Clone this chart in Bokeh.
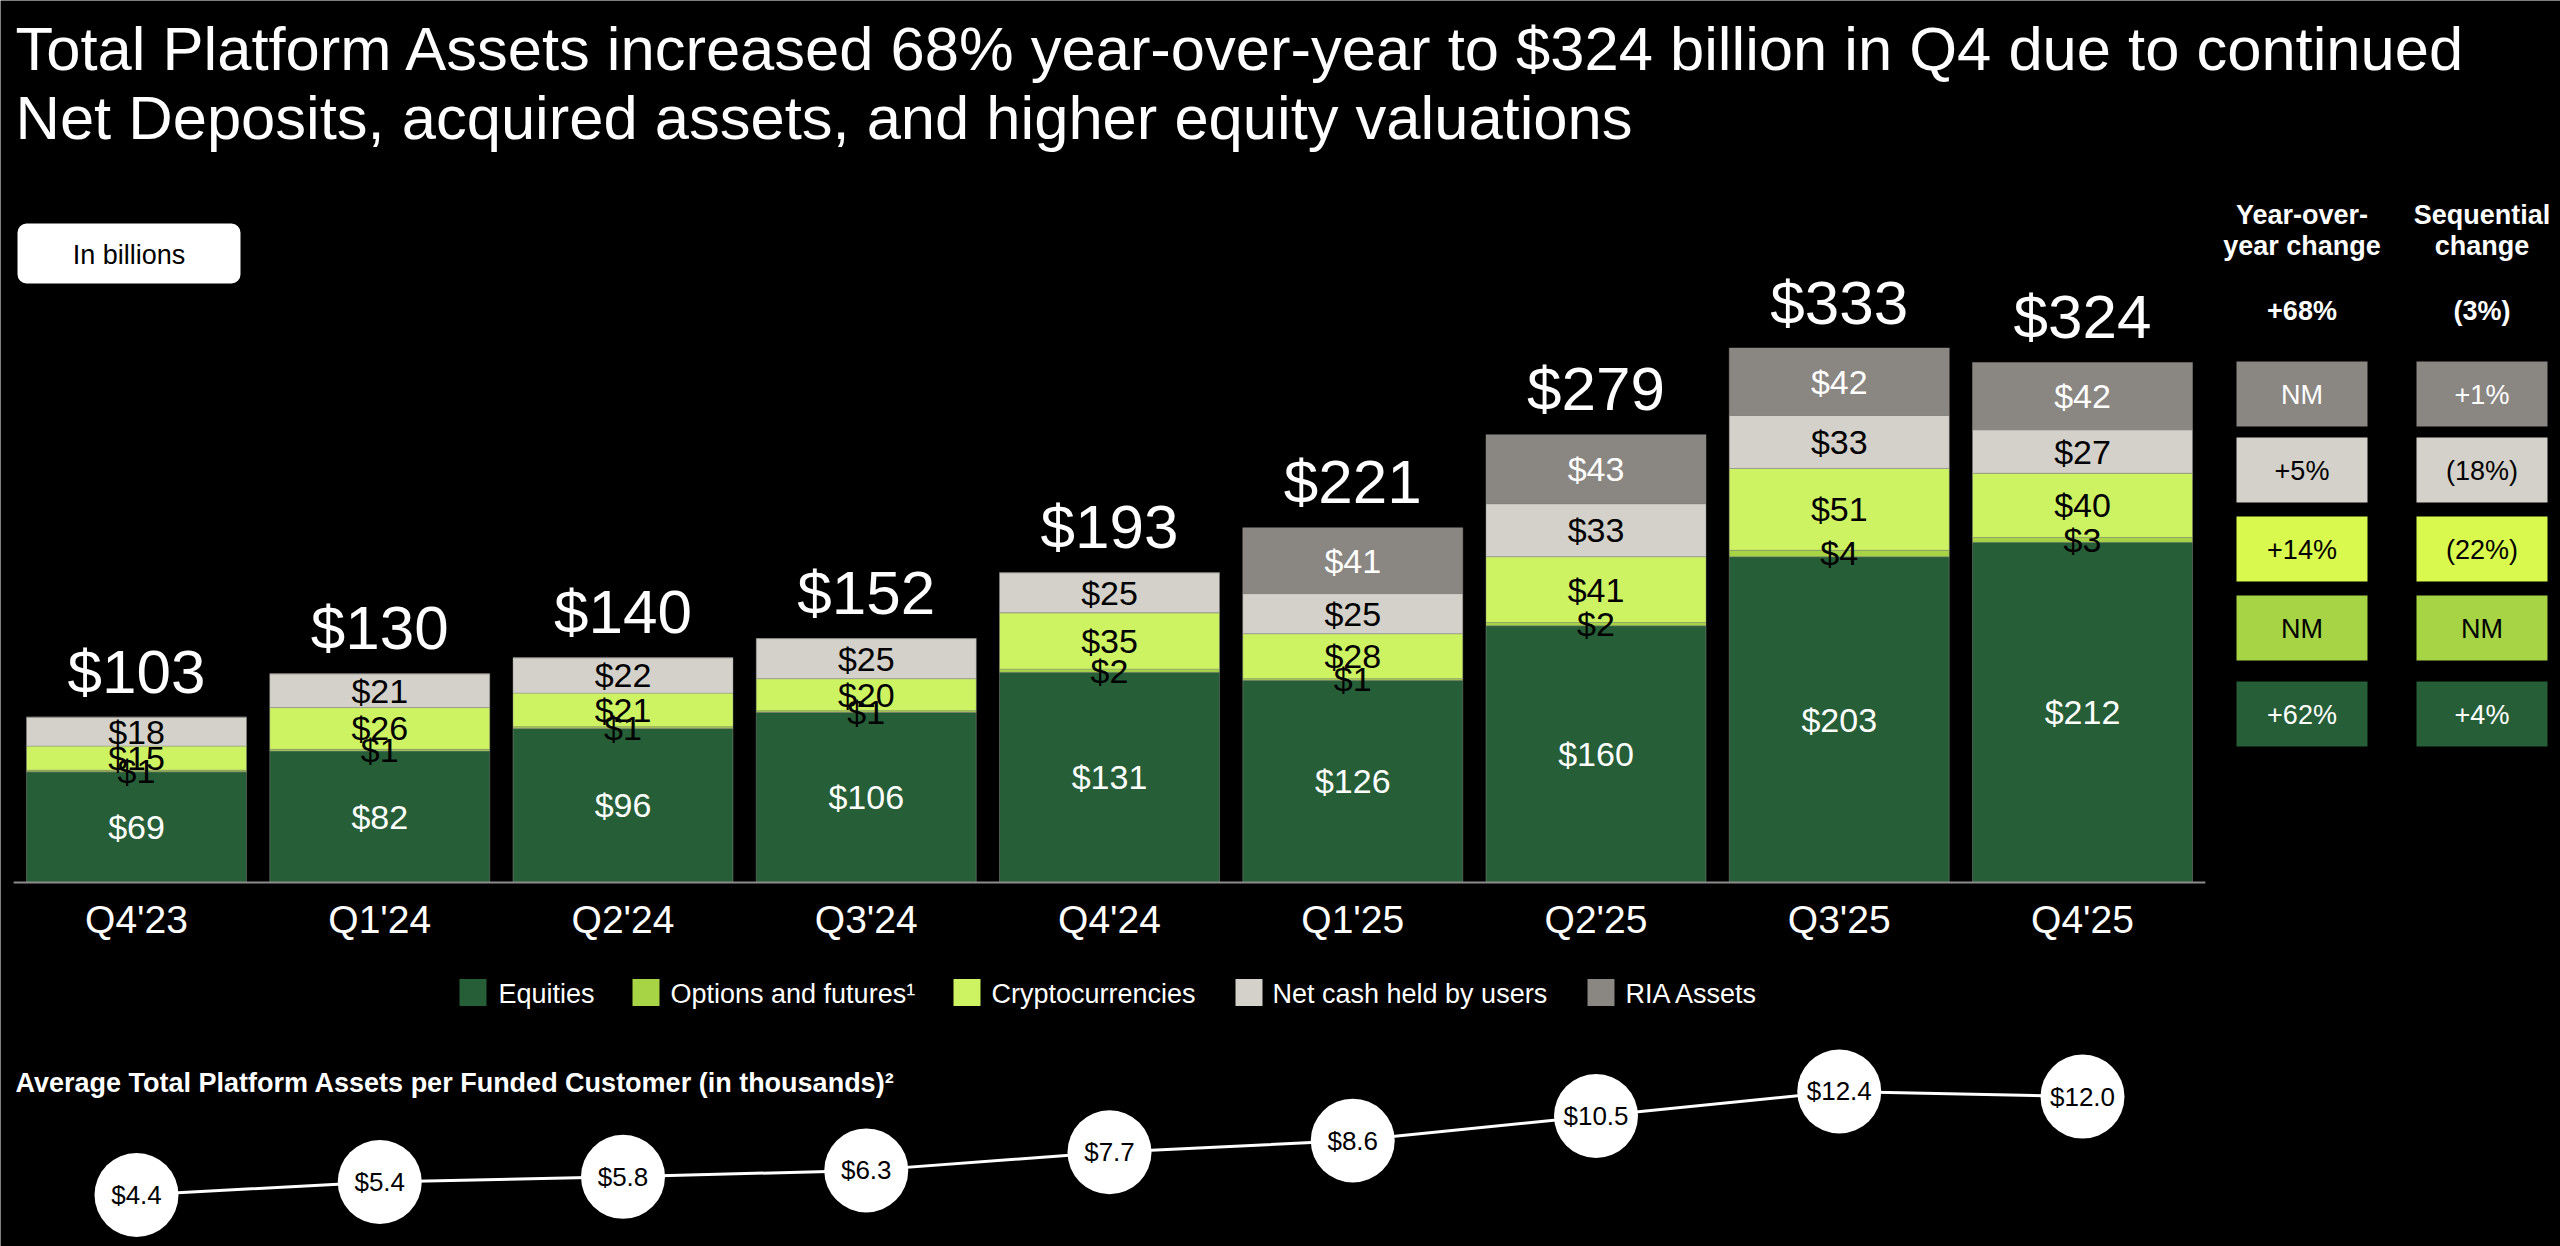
from bokeh.plotting import figure
from bokeh.models import Range1d, BoxAnnotation, ColumnDataSource
from bokeh.core.properties import value
from bokeh.embed import file_html
from bokeh.resources import INLINE

# ---- data (billions of dollars) ----
quarters = ["Q4'23", "Q1'24", "Q2'24", "Q3'24", "Q4'24", "Q1'25", "Q2'25", "Q3'25", "Q4'25"]
equities = [69, 82, 96, 106, 131, 126, 160, 203, 212]
options_futures = [1, 1, 1, 1, 2, 1, 2, 4, 3]
crypto = [15, 26, 21, 20, 35, 28, 41, 51, 40]
net_cash = [18, 21, 22, 25, 25, 25, 33, 33, 27]
ria_assets = [0, 0, 0, 0, 0, 41, 43, 42, 42]

series_names = ["Equities", "Options and futures¹", "Cryptocurrencies",
                "Net cash held by users", "RIA Assets"]

# average platform assets per funded customer (thousands)
avg_per_customer = [4.4, 5.4, 5.8, 6.3, 7.7, 8.6, 10.5, 12.4, 12.0]

# change table, listed bottom-to-top like the stack
yoy_change = ["+62%", "NM", "+14%", "+5%", "NM"]
seq_change = ["+4%", "NM", "(22%)", "(18%)", "+1%"]
total_yoy = "+68%"
total_seq = "(3%)"

# ---- styling ----
FONT = value("Liberation Sans")
bar_colors = ["#265e38", "#a6d445", "#cdf262", "#d4d1ca", "#8a8682"]
table_colors = ["#265e38", "#a6d445", "#d9f94f", "#d4d1ca", "#8a8682"]
label_colors = ["white", "black", "black", "black", "white"]

W, H = 2560, 1246
SLOT_PX, X0_PX = 243.25, 136.0      # horizontal spacing of the bars
BASE_PX, BAR_PX = 882.0, 1.605      # bar baseline and pixels per $1B
AVG_ZERO_PX, AVG_PX = 1251.4, 12.94  # line panel scale

x_range = Range1d(-X0_PX / SLOT_PX, (W - X0_PX) / SLOT_PX)
y_range = Range1d(-(H - BASE_PX) / BAR_PX, BASE_PX / BAR_PX)

p = figure(width=W, height=H, x_range=x_range, y_range=y_range,
           output_backend="svg", toolbar_location=None, title=None,
           x_axis_type=None, y_axis_type=None, min_border=0,
           background_fill_color="black", border_fill_color="black",
           outline_line_color=None)
p.extra_x_ranges = {"px": Range1d(0, W)}
p.extra_y_ranges = {
    "px": Range1d(H, 0),
    "avg": Range1d((AVG_ZERO_PX - H) / AVG_PX, AVG_ZERO_PX / AVG_PX),
}

idx = list(range(len(quarters)))
stack = [equities, options_futures, crypto, net_cash, ria_assets]
keys = ["eq", "opt", "cry", "cash", "ria"]
src = ColumnDataSource(dict(x=idx, **{k: v for k, v in zip(keys, stack)}))

# stacked bars
p.vbar_stack(keys, x="x", width=220 / SLOT_PX, color=bar_colors, source=src,
             line_color="#8f8f8a", line_width=1, line_alpha=0.45)

# baseline
p.segment(x0=[-0.505], y0=[0], x1=[len(quarters) - 1 + 0.505], y1=[0],
          line_color="#8c8c8c", line_width=2)

# segment labels, centred in each segment
bottoms = [0] * len(quarters)
for s, vals in enumerate(stack):
    lx, ly, lt = [], [], []
    for i, v in enumerate(vals):
        if v > 0:
            lx.append(i)
            ly.append(bottoms[i] + v / 2)
            lt.append(f"${v}")
        bottoms[i] += v
    p.text(x=lx, y=ly, text=lt, text_font=FONT, text_font_size="34px",
           text_color=label_colors[s], text_align="center", text_baseline="middle")

totals = bottoms[:]
p.text(x=idx, y=totals, text=[f"${t}" for t in totals], text_font=FONT,
       text_font_size="62px", text_color="white", text_align="center",
       text_baseline="middle", y_offset=-46)

# quarter labels under the baseline
p.text(x=idx, y=[0] * len(idx), text=quarters, text_font=FONT, text_font_size="39px",
       text_color="white", text_align="center", text_baseline="middle", y_offset=37)

# ---- headline ----
p.text(x=[15, 15], y=[48, 117], text=[
    "Total Platform Assets increased 68% year-over-year to $324 billion in Q4 due to continued",
    "Net Deposits, acquired assets, and higher equity valuations"],
    x_range_name="px", y_range_name="px", text_font=FONT, text_font_size="61.5px",
    text_color="white", text_align="left", text_baseline="middle")

# unit tag
p.add_layout(BoxAnnotation(left=17, right=240, top=223, bottom=283,
                           x_range_name="px", y_range_name="px",
                           fill_color="white", fill_alpha=1, line_color=None,
                           border_radius=9, level="underlay"))
p.text(x=[128.5], y=[254], text=["In billions"], x_range_name="px", y_range_name="px",
       text_font=FONT, text_font_size="27px", text_color="black",
       text_align="center", text_baseline="middle")

# ---- legend ----
leg_sq = [459, 632, 953, 1235, 1587]
leg_tx = [498, 670, 991, 1272, 1625]
p.rect(x=[v + 13.5 for v in leg_sq], y=[992] * 5, width=27, height=27,
       fill_color=bar_colors, line_color=None, x_range_name="px", y_range_name="px")
p.text(x=leg_tx, y=[993] * 5, text=series_names, x_range_name="px", y_range_name="px",
       text_font=FONT, text_font_size="27px", text_color="white",
       text_align="left", text_baseline="middle")

# ---- change table ----
col_left = [2236, 2416]
col_w = 131
row_top = [681, 595, 516, 437, 361]   # bottom-to-top order
row_h = 65
for c, vals in enumerate([yoy_change, seq_change]):
    p.quad(left=[col_left[c]] * 5, right=[col_left[c] + col_w] * 5,
           top=row_top, bottom=[t + row_h for t in row_top],
           fill_color=table_colors, line_color=None,
           x_range_name="px", y_range_name="px")
    p.text(x=[col_left[c] + col_w / 2] * 5, y=[t + row_h / 2 + 1 for t in row_top],
           text=vals, x_range_name="px", y_range_name="px", text_font=FONT,
           text_font_size="27px", text_color=label_colors,
           text_align="center", text_baseline="middle")

hx = [col_left[0] + col_w / 2, col_left[1] + col_w / 2]
p.text(x=[hx[0], hx[0], hx[1], hx[1]], y=[214, 245, 214, 245],
       text=["Year-over-", "year change", "Sequential", "change"],
       x_range_name="px", y_range_name="px", text_font=FONT, text_font_size="27px",
       text_font_style="bold", text_color="white", text_align="center",
       text_baseline="middle")
p.text(x=hx, y=[310, 310], text=[total_yoy, total_seq],
       x_range_name="px", y_range_name="px", text_font=FONT, text_font_size="27px",
       text_font_style="bold", text_color="white", text_align="center",
       text_baseline="middle")

# ---- average assets per funded customer ----
p.text(x=[15], y=[1082], text=["Average Total Platform Assets per Funded Customer (in thousands)²"],
       x_range_name="px", y_range_name="px", text_font=FONT, text_font_size="27px",
       text_font_style="bold", text_color="white", text_align="left",
       text_baseline="middle")
p.line(x=idx, y=avg_per_customer, y_range_name="avg", line_color="white", line_width=3)
p.scatter(x=idx, y=avg_per_customer, y_range_name="avg", size=84,
          fill_color="white", line_color=None)
p.text(x=idx, y=avg_per_customer, text=[f"${v:.1f}" for v in avg_per_customer],
       y_range_name="avg", text_font=FONT, text_font_size="26px", text_color="black",
       text_align="center", text_baseline="middle")

open("out.html", "w").write(file_html(p, INLINE))
